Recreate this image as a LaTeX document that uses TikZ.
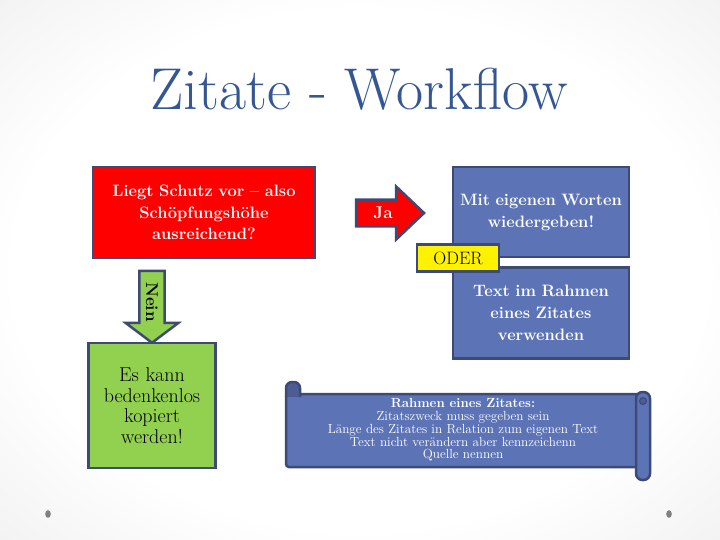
\documentclass[tikz,border=0pt]{standalone}
\usetikzlibrary{shapes.arrows,positioning}
\definecolor{rahmen}{RGB}{62,74,118}
\definecolor{blau}{RGB}{92,116,182}
\definecolor{gruen}{RGB}{146,208,80}
\definecolor{titelblau}{RGB}{52,87,147}
\definecolor{hgrau}{RGB}{205,205,205}
\pgfdeclareradialshading{folie}{\pgfpoint{0bp}{0bp}}{color(0bp)=(white); color(24bp)=(white); color(71bp)=(hgrau)}
\begin{document}
\begin{tikzpicture}[x=1pt, y=-1pt, node distance=101pt]
\tikzstyle{kasten}=[rectangle,draw=rahmen,line width=2.5pt,inner sep=0pt,align=center]
\tikzstyle{frage}=[kasten,fill=red,text=white,font=\bfseries\fontsize{16.5}{21.5}\selectfont]
\tikzstyle{antwort}=[kasten,fill=blau,text=white,font=\bfseries\fontsize{16.5}{22}\selectfont]
\tikzstyle{ergebnis}=[kasten,fill=gruen,text=black,font=\fontsize{20}{20.5}\selectfont]
\tikzstyle{oder}=[kasten,fill=yellow,text=black,font=\fontsize{18}{18}\selectfont]
\tikzstyle{pfeil}=[single arrow,draw=rahmen,line width=2.5pt,inner sep=2pt,minimum width=53pt,font=\bfseries\fontsize{17}{18}\selectfont]
\tikzstyle{rolle}=[draw=rahmen,fill=blau,line width=2.5pt]
% slide background
\useasboundingbox (0,0) rectangle (720,540);
\shade[shading=folie] (0,0) rectangle (720,540);
\fill[gray] (48,514) ellipse (2.8pt and 3.8pt);
\fill[gray] (669,514) ellipse (2.8pt and 3.8pt);
% title
\node[anchor=base,text=titelblau,font=\fontsize{59}{62}\selectfont] (titel) at (359,110) {Zitate - Workflow};
% workflow
\node[frage,text width=222pt,minimum height=91pt] (schutz) at (204,212.5) {Liegt Schutz vor -- also\\Schöpfungshöhe\\ausreichend?};
\node[pfeil,fill=red,text=white,minimum height=68pt,single arrow head extend=9pt,single arrow tip angle=87] (ja) at (383,213) {Ja};
\node[antwort,text width=176pt,minimum height=90pt] (worte) at (541,212) {Mit eigenen Worten\\wiedergeben!};
\node[antwort,text width=176pt,minimum height=91pt] (zitat) [below of=worte] {Text im Rahmen\\eines Zitates\\verwenden};
\node[oder,minimum width=82pt,minimum height=27pt] (oder) at (458,258) {ODER};
\node[pfeil,fill=gruen,text=black,rotate=-90,minimum height=72pt,single arrow head extend=10pt,single arrow tip angle=106] (nein) at (152,302) {Nein};
\node[ergebnis,text width=127pt,minimum height=125pt] (kopieren) [below of=nein,node distance=103.5pt] {Es kann\\bedenkenlos\\kopiert\\werden!};
% scroll
\draw[rolle,rounded corners=3pt] (286,394) rectangle (641,467);
\draw[rolle,fill=rahmen!55!blau,rounded corners=6pt] (286,397) |- (300,382) -- (300,397);
\draw[rolle,rounded corners=6.5pt] (636,392) rectangle (650,480);
\draw[draw=rahmen,fill=rahmen!55!blau,line width=1pt] (643,401) circle (3.5pt);
\node[text=white,align=center,font=\fontsize{13.2}{12.8}\selectfont] (rahmentext) at (463,430) {\textbf{Rahmen eines Zitates:}\\Zitatszweck muss gegeben sein\\Länge des Zitates in Relation zum eigenen Text\\Text nicht verändern aber kennzeichenn\\Quelle nennen};
\end{tikzpicture}
\end{document}
